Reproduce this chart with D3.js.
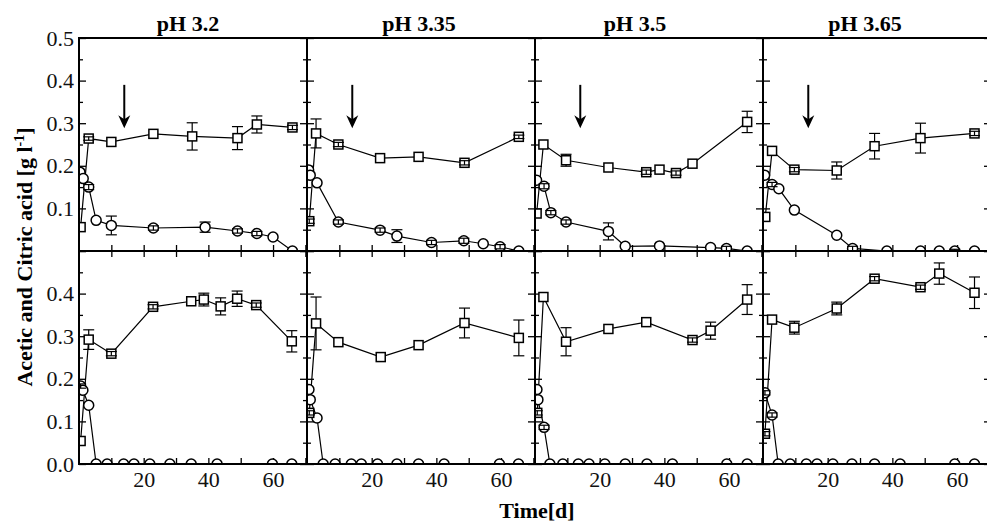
<!DOCTYPE html>
<html>
<head>
<meta charset="utf-8">
<title>Acetic and citric acid</title>
<script src="https://d3js.org/d3.v7.min.js"></script>
<style>
    body { margin: 0; background: #fff; }
    svg { font-family: "Liberation Serif", "Times New Roman", serif; }
    .tick line { stroke: #000; stroke-width: 1.3px; }
    .frame { fill: none; stroke: #000; stroke-width: 2px; }
    .series { fill: none; stroke: #000; stroke-width: 1.2px; }
    .mark { fill: #fff; stroke: #000; stroke-width: 1.5px; }
    .err { stroke: #000; stroke-width: 1.2px; }
    .title { font-size: 22px; font-weight: bold; }
</style>
</head>
<body>
<svg width="987" height="527"></svg>
<script>

    var phLabels = ["pH 3.2", "pH 3.35", "pH 3.5", "pH 3.65"];

    // upper row : acetic (squares)
    var upAceticDays = [
        [0.5, 3, 10, 23, 35, 49, 55, 66],
        [0.7, 2.8, 9.7, 22.6, 34.5, 48.7, 65.5],
        [0.5, 2.6, 9.6, 22.7, 34.4, 38.5, 43.6, 48.7, 65.6],
        [0.7, 2.8, 9.7, 22.8, 34.5, 48.7, 65.4]
    ];
    var upAceticVals = [
        [0.056, 0.264, 0.256, 0.275, 0.269, 0.265, 0.297, 0.290],
        [0.070, 0.276, 0.250, 0.218, 0.221, 0.207, 0.268],
        [0.088, 0.250, 0.213, 0.196, 0.185, 0.191, 0.183, 0.205, 0.303],
        [0.080, 0.235, 0.191, 0.189, 0.246, 0.265, 0.276]
    ];
    var upAceticErr = [
        [0, 0.004, 0, 0, 0.032, 0.027, 0.020, 0.005],
        [0.005, 0.034, 0.005, 0, 0, 0.005, 0.004],
        [0, 0, 0.014, 0, 0.005, 0, 0.005, 0, 0.025],
        [0, 0, 0.005, 0.020, 0.030, 0.035, 0.005]
    ];

    // upper row : citric (circles)
    var upCitricDays = [
        [0.3, 1.3, 3, 5.3, 10, 23, 39, 49, 55, 60, 66],
        [0.5, 1, 3.1, 9.7, 22.6, 27.8, 38.5, 48.5, 54.5, 59.7, 65.5],
        [0.5, 2.8, 4.9, 9.6, 22.7, 27.9, 38.5, 54.3, 59.2, 65.6],
        [0.5, 2.8, 4.9, 9.7, 22.8, 27.7, 38.3, 48.7, 54.5, 59.3, 65.4]
    ];
    var upCitricVals = [
        [0.185, 0.170, 0.150, 0.072, 0.060, 0.054, 0.056, 0.047, 0.041, 0.033, 0.0],
        [0.190, 0.178, 0.160, 0.068, 0.049, 0.035, 0.020, 0.024, 0.017, 0.010, 0.0],
        [0.166, 0.152, 0.090, 0.068, 0.046, 0.011, 0.012, 0.008, 0.006, 0.0],
        [0.178, 0.156, 0.146, 0.096, 0.037, 0.006, 0.0, 0.0, 0.0, 0.0, 0.0]
    ];
    var upCitricErr = [
        [0, 0, 0.006, 0, 0.022, 0.005, 0.012, 0.005, 0.005, 0, 0],
        [0, 0, 0, 0.005, 0.005, 0.015, 0.005, 0.006, 0, 0.005, 0],
        [0, 0.006, 0.005, 0.005, 0.020, 0, 0, 0, 0.005, 0],
        [0, 0.005, 0, 0, 0, 0.005, 0, 0, 0, 0.004, 0]
    ];

    // lower row : acetic (squares)
    var loAceticDays = [
        [0.5, 3, 10, 22.9, 34.7, 38.6, 43.8, 48.9, 54.8, 65.8],
        [0.7, 2.8, 9.7, 22.8, 34.5, 48.7, 65.5],
        [0.7, 2.6, 9.6, 22.7, 34.4, 48.7, 54.3, 65.6],
        [0.6, 2.8, 9.7, 22.8, 34.5, 48.7, 54.5, 65.4]
    ];
    var loAceticVals = [
        [0.054, 0.292, 0.259, 0.369, 0.382, 0.386, 0.370, 0.388, 0.373, 0.288],
        [0.120, 0.330, 0.286, 0.251, 0.279, 0.331, 0.296],
        [0.120, 0.392, 0.287, 0.317, 0.333, 0.291, 0.313, 0.386],
        [0.071, 0.339, 0.320, 0.365, 0.435, 0.415, 0.447, 0.402]
    ];
    var loAceticErr = [
        [0, 0.023, 0.005, 0.005, 0, 0.015, 0.020, 0.018, 0.005, 0.025],
        [0.005, 0.062, 0, 0, 0, 0.035, 0.042],
        [0.005, 0, 0.033, 0, 0, 0.005, 0.020, 0.035],
        [0.005, 0, 0.015, 0.015, 0.005, 0.005, 0.025, 0.037]
    ];

    // lower row : citric (circles)
    var loCitricDays = [
        [0.5, 1.2, 3, 5.3, 8.7, 13.8, 17.0, 21.9, 28.1, 34.7, 42.7, 59.8, 65.8],
        [0.6, 1, 3.1, 5.0, 8.7, 13.7, 16.8, 21.8, 27.8, 34.5, 42.4, 59.5, 65.4],
        [0.6, 0.9, 2.8, 4.6, 8.6, 13.4, 16.7, 21.6, 27.9, 34.6, 42.5, 59.3, 65.6],
        [0.6, 2.8, 4.7, 8.4, 13.4, 16.7, 21.6, 27.5, 34.5, 42.4, 59.3, 65.4]
    ];
    var loCitricVals = [
        [0.183, 0.173, 0.138, 0, 0, 0, 0, 0, 0, 0, 0, 0, 0],
        [0.175, 0.151, 0.108, 0, 0, 0, 0, 0, 0, 0, 0, 0, 0],
        [0.175, 0.151, 0.086, 0, 0, 0, 0, 0, 0, 0, 0, 0, 0],
        [0.167, 0.115, 0, 0, 0, 0, 0, 0, 0, 0, 0, 0]
    ];
    var loCitricErr = [
        [0.005, 0, 0, 0, 0, 0, 0, 0, 0, 0, 0, 0, 0],
        [0, 0, 0, 0, 0, 0, 0, 0, 0, 0, 0, 0, 0],
        [0, 0, 0.005, 0, 0, 0, 0, 0, 0, 0, 0, 0, 0],
        [0.005, 0.005, 0, 0, 0, 0, 0, 0, 0, 0, 0, 0]
    ];

    // arrow in upper panels (day, from value, to value)
    var arrowDay = 14, arrowFrom = 0.39, arrowTo = 0.288;

    var yMajor = [0, 0.1, 0.2, 0.3, 0.4, 0.5];
    var yMinor = [0.05, 0.15, 0.25, 0.35, 0.45];
    var xTicks = [10, 20, 30, 40, 50, 60, 70];
    var xLabels = [20, 40, 60];

    var svg = d3.select("svg");
    var panelLeft = 79, panelW = 228;
    var titleShift = [-5, -2, -14, -12];
    var fmt = d3.format(".1f");
    var serif = '"Liberation Serif", "Times New Roman", serif';

    var rows = [
        {top: 38, bottom: 251, acD: upAceticDays, acV: upAceticVals, acE: upAceticErr,
            ciD: upCitricDays, ciV: upCitricVals, ciE: upCitricErr, labels: [0.1, 0.2, 0.3, 0.4, 0.5]},
        {top: 251, bottom: 464, acD: loAceticDays, acV: loAceticVals, acE: loAceticErr,
            ciD: loCitricDays, ciV: loCitricVals, ciE: loCitricErr, labels: [0, 0.1, 0.2, 0.3, 0.4]}
    ];

    var defs = svg.append("defs");

    function zip(days, vals, errs) {
        return days.map(function(d, k) { return {t: d, v: vals[k], e: errs[k]}; });
    }

    // d3 axes put font-family="sans-serif" on the group, so restyle here
    function styleAxis(sel) {
        sel.attr("font-family", serif).attr("font-size", 22);
        sel.selectAll("text").style("font-family", serif).style("font-size", "22px").attr("fill", "#111");
    }

    phLabels.forEach(function(label, i) {
        var x0 = panelLeft + i * panelW;
        var x = d3.scaleLinear().domain([0, 70.5]).range([x0, x0 + panelW]);

        svg.append("text")
            .attr("class", "title")
            .attr("x", x0 + panelW / 2 + titleShift[i])
            .attr("y", 31)
            .attr("text-anchor", "middle")
            .text(label);

        rows.forEach(function(row, r) {
            var y = d3.scaleLinear().domain([0, 0.5]).range([row.bottom, row.top]);
            var g = svg.append("g");
            var clipId = "clip" + i + "_" + r;
            defs.append("clipPath").attr("id", clipId)
                .append("rect")
                .attr("x", x0).attr("y", row.top)
                .attr("width", panelW).attr("height", row.bottom - row.top);

            // axes, ticks inward
            g.append("g")
                .attr("transform", "translate(" + x0 + ",0)")
                .call(d3.axisLeft(y).tickValues(yMajor).tickSize(-7).tickPadding(5)
                    .tickFormat(function(d) {
                        return (i == 0 && row.labels.indexOf(d) >= 0) ? fmt(d) : "";
                    }))
                .call(styleAxis);
            g.append("g")
                .attr("transform", "translate(" + x0 + ",0)")
                .call(d3.axisLeft(y).tickValues(yMinor).tickSize(-4).tickFormat(""));
            g.append("g")
                .attr("transform", "translate(" + (x0 + panelW) + ",0)")
                .call(d3.axisRight(y).tickValues(yMajor).tickSize(-7).tickFormat(""));
            if (i < 3) {
                g.append("g")
                    .attr("transform", "translate(" + (x0 + panelW) + ",0)")
                    .call(d3.axisRight(y).tickValues(yMinor).tickSize(-4).tickFormat(""));
            }
            g.append("g")
                .attr("transform", "translate(0," + row.bottom + ")")
                .call(d3.axisBottom(x).tickValues(xTicks).tickSize(-6).tickPadding(7)
                    .tickFormat(function(d) {
                        return (r == 1 && xLabels.indexOf(d) >= 0) ? d : "";
                    }))
                .call(styleAxis);
            if (r == 1) {
                g.append("g")
                    .attr("transform", "translate(0," + row.top + ")")
                    .call(d3.axisTop(x).tickValues(xTicks).tickSize(-6).tickFormat(""));
            }
            g.selectAll(".domain").remove();

            var plot = g.append("g").attr("clip-path", "url(#" + clipId + ")");
            var line = d3.line()
                .x(function(d) { return x(d.t); })
                .y(function(d) { return y(d.v); });

            var series = [
                {pts: zip(row.ciD[i], row.ciV[i], row.ciE[i]), shape: "circle"},
                {pts: zip(row.acD[i], row.acV[i], row.acE[i]), shape: "square"}
            ];

            series.forEach(function(s) {
                plot.append("path").datum(s.pts).attr("class", "series").attr("d", line);
            });

            function errBars(sel, pts) {
                var eg = sel.selectAll(null).data(pts).enter().append("g").attr("class", "err");
                eg.append("line")
                    .attr("x1", function(d) { return x(d.t); })
                    .attr("x2", function(d) { return x(d.t); })
                    .attr("y1", function(d) { return y(d.v - d.e); })
                    .attr("y2", function(d) { return y(d.v + d.e); });
                [-1, 1].forEach(function(s) {
                    eg.append("line")
                        .attr("x1", function(d) { return x(d.t) - 5.5; })
                        .attr("x2", function(d) { return x(d.t) + 5.5; })
                        .attr("y1", function(d) { return y(d.v + s * d.e); })
                        .attr("y2", function(d) { return y(d.v + s * d.e); });
                });
            }

            function isSmall(d) { return y(0) - y(d.e) < 5; }

            series.forEach(function(s) {
                errBars(plot, s.pts.filter(function(d) { return d.e > 0 && !isSmall(d); }));
            });

            series.forEach(function(s) {
                if (s.shape == "circle") {
                    plot.selectAll(null).data(s.pts).enter().append("circle")
                        .attr("class", "mark")
                        .attr("cx", function(d) { return x(d.t); })
                        .attr("cy", function(d) { return y(d.v); })
                        .attr("r", 5);
                } else {
                    plot.selectAll(null).data(s.pts).enter().append("rect")
                        .attr("class", "mark")
                        .attr("x", function(d) { return x(d.t) - 4.5; })
                        .attr("y", function(d) { return y(d.v) - 4.5; })
                        .attr("width", 9).attr("height", 9);
                }
            });

            series.forEach(function(s) {
                errBars(plot, s.pts.filter(function(d) { return d.e > 0 && isSmall(d); }));
            });

            if (r == 0) {
                var ax = x(arrowDay);
                g.append("line")
                    .attr("x1", ax).attr("x2", ax)
                    .attr("y1", y(arrowFrom)).attr("y2", y(arrowTo) - 8)
                    .attr("stroke", "#000").attr("stroke-width", 2);
                g.append("path")
                    .attr("d", "M" + (ax - 6) + "," + (y(arrowTo) - 13) +
                        "L" + ax + "," + y(arrowTo) +
                        "L" + (ax + 6) + "," + (y(arrowTo) - 13) +
                        "L" + ax + "," + (y(arrowTo) - 9) + "Z")
                    .attr("fill", "#000");
            }

            g.append("rect")
                .attr("class", "frame")
                .attr("x", x0).attr("y", row.top)
                .attr("width", panelW).attr("height", row.bottom - row.top);
        });
    });

    var yTitle = svg.append("text")
        .attr("class", "title")
        .attr("transform", "translate(32,257) rotate(-90)")
        .attr("text-anchor", "middle");
    yTitle.append("tspan").text("Acetic and Citric acid [g l");
    yTitle.append("tspan").attr("dy", -8).style("font-size", "14px").text("-1");
    yTitle.append("tspan").attr("dy", 8).text("]");

    svg.append("text")
        .attr("class", "title")
        .attr("x", 537)
        .attr("y", 518)
        .attr("text-anchor", "middle")
        .text("Time[d]");

</script>
</body>
</html>
